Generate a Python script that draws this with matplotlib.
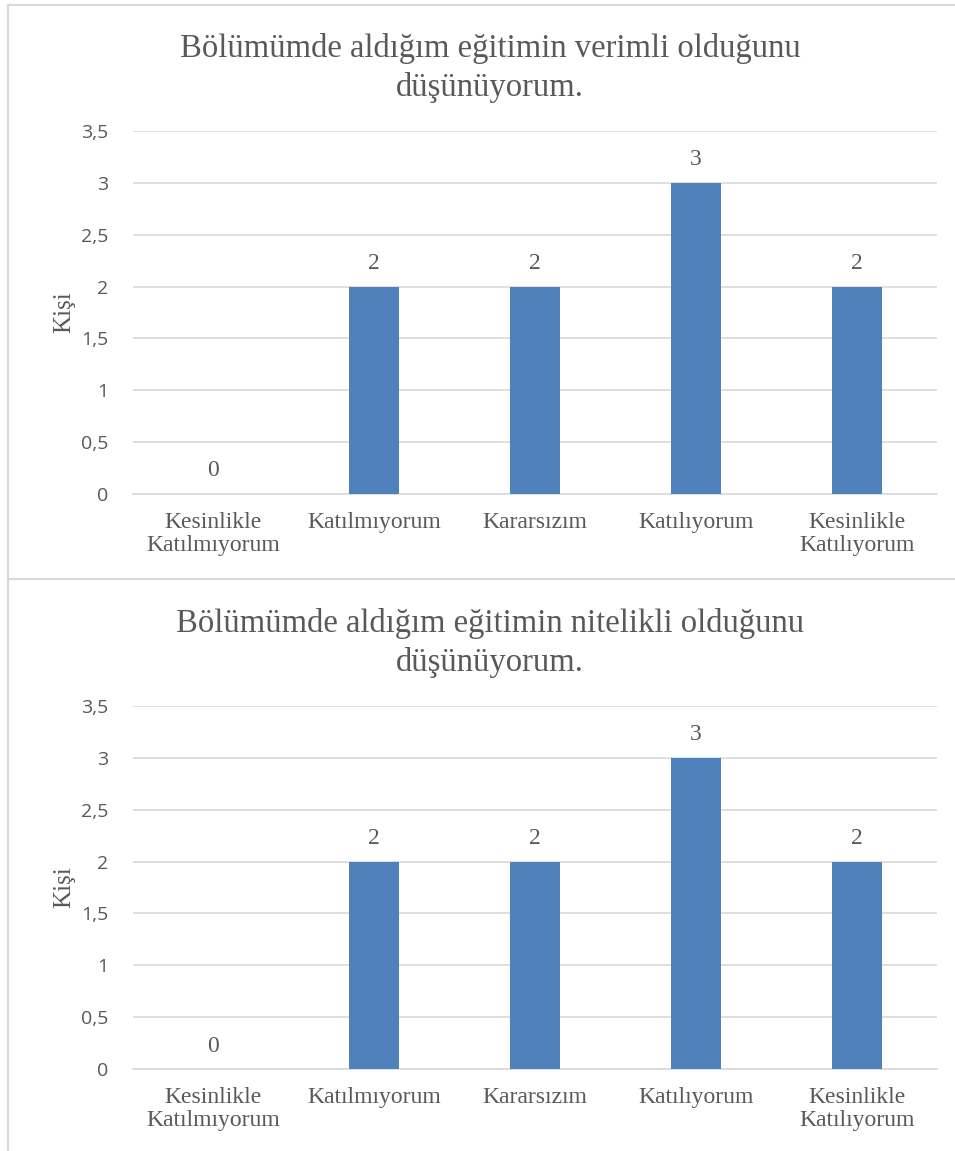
import matplotlib
matplotlib.use("Agg")
from matplotlib import pyplot as plt
from matplotlib.lines import Line2D
from matplotlib.ticker import FuncFormatter

categories = ["Kesinlikle\nKatılmıyorum", "Katılmıyorum", "Kararsızım",
              "Katılıyorum", "Kesinlikle\nKatılıyorum"]
verimli_values = [0, 2, 2, 3, 2]
nitelikli_values = [0, 2, 2, 3, 2]
titles = ["Bölümümde aldığım eğitimin verimli olduğunu\ndüşünüyorum.",
          "Bölümümde aldığım eğitimin nitelikli olduğunu\ndüşünüyorum."]
y_ticks = [0, 0.5, 1, 1.5, 2, 2.5, 3, 3.5]

W, H = 955, 1151
BAR = "#4F81BD"
TXT = "#595959"
GRID = "#D9D9D9"
SERIF = ["Liberation Serif", "DejaVu Serif"]
SANS = ["Open Sans", "DejaVu Sans"]

fig = plt.figure(figsize=(W / 100, H / 100), dpi=100)


def px_axes(x0, y0, x1, y1):
    return fig.add_axes([x0 / W, 1 - y1 / H, (x1 - x0) / W, (y1 - y0) / H])


def draw_chart(top_px, bottom_px, title_y, values, title):
    ax = px_axes(133, top_px, 937, bottom_px)
    x = range(len(categories))
    ax.bar(x, values, width=0.31, color=BAR, zorder=3)
    ax.set_xlim(-0.5, len(categories) - 0.5)
    ax.set_ylim(0, 3.5)
    ax.set_yticks(y_ticks)
    ax.yaxis.set_major_formatter(FuncFormatter(lambda v, p: f"{v:g}".replace(".", ",")))
    ax.grid(axis="y", color=GRID, linewidth=1.2, zorder=0)
    for s in ["top", "right", "left"]:
        ax.spines[s].set_visible(False)
    ax.spines["bottom"].set_color(GRID)
    ax.spines["bottom"].set_linewidth(1.2)
    ax.tick_params(axis="both", length=0)
    ax.tick_params(axis="y", pad=18, labelcolor=TXT, labelsize=14)
    for lab in ax.get_yticklabels():
        lab.set_family(SANS)
    ax.set_xticks(list(x))
    ax.set_xticklabels(categories, family=SERIF, fontsize=17, color=TXT,
                       linespacing=1.12)
    ax.tick_params(axis="x", pad=13)
    for xi, v in zip(x, values):
        ax.annotate(str(v), (xi, v), xytext=(0, 9), textcoords="offset points",
                    ha="center", va="bottom", family=SERIF, fontsize=17, color=TXT)
    ax.set_ylabel("Kişi", family=SERIF, fontsize=18, color=TXT, labelpad=4)
    fig.text(490 / W, 1 - title_y / H, title, ha="center", va="center",
             family=SERIF, fontsize=23.5, color=TXT, linespacing=1.3)
    return ax


draw_chart(131, 494, 68, verimli_values, titles[0])
draw_chart(706, 1069, 643, nitelikli_values, titles[1])

# chart borders
for seg in [((8, 8), (5, H)), ((8, W), (5, 5)), ((8, W), (579, 579))]:
    fig.add_artist(Line2D([s / W for s in seg[0]], [1 - s / H for s in seg[1]],
                          color="#D9D9D9", linewidth=1.5))

fig.savefig("out.png", dpi=100)
